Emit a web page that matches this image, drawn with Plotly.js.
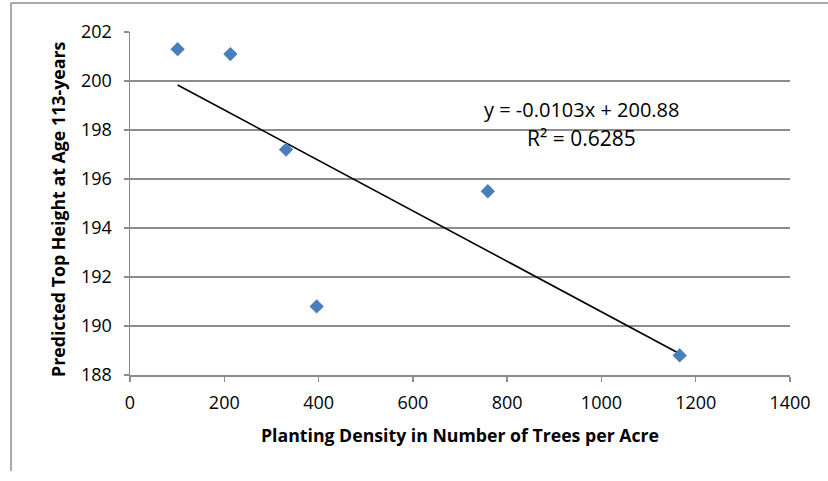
<!DOCTYPE html>
<html>
<head>
<meta charset="utf-8">
<script src="https://cdn.plot.ly/plotly-3.0.1.min.js"></script>
<style>html,body{margin:0;padding:0;background:#fff;}#chart{width:828px;height:481px;}</style>
</head>
<body>
<div id="chart"></div>
<script>
// Data
const density = [101, 213, 331, 396, 759, 1166];
const topHeight = [201.3, 201.1, 197.2, 190.8, 195.5, 188.8];
const slope = -0.0103;
const intercept = 200.88;
const equationText = "y = -0.0103x + 200.88";
const r2Text = "R² = 0.6285";
const xTicks = [0, 200, 400, 600, 800, 1000, 1200, 1400];
const yTicks = [188, 190, 192, 194, 196, 198, 200, 202];
const xTitle = "Planting Density in Number of Trees per Acre";
const yTitle = "Predicted Top Height at Age 113-years";

const xMin = Math.min(...density), xMax = Math.max(...density);
const trendX = [xMin, xMax];
const trendY = trendX.map(v => slope * v + intercept);

const gridCol = '#8c8c8c';
const fontFam = '"Open Sans", "Liberation Sans", sans-serif';
const px = v => (v - 130) / 660;
const py = v => (375 - v) / 343;

const traces = [
  {x: trendX, y: trendY, mode: 'lines', type: 'scatter',
   line: {color: '#000', width: 1.6}, hoverinfo: 'skip', showlegend: false},
  {x: density, y: topHeight, mode: 'markers', type: 'scatter',
   marker: {symbol: 'diamond', size: 11, color: '#4a7ebb'}, showlegend: false}
];

const layout = {
  width: 828, height: 481,
  margin: {l: 130, r: 38, t: 32, b: 106},
  paper_bgcolor: '#fff', plot_bgcolor: '#fff',
  font: {family: fontFam, color: '#000', size: 16},
  showlegend: false,
  xaxis: {
    range: [0, 1400], tickvals: xTicks, ticktext: xTicks.map(String),
    showgrid: false, zeroline: false,
    showline: true, linecolor: gridCol, linewidth: 1.5,
    ticks: 'outside', ticklen: 5, tickcolor: gridCol, tickwidth: 1.5,
    ticklabelstandoff: 6,
    tickfont: {size: 18, family: fontFam},
    automargin: false, fixedrange: true
  },
  yaxis: {
    range: [188, 202], tickvals: yTicks, ticktext: yTicks.map(String),
    showgrid: true, gridcolor: gridCol, gridwidth: 1.5, zeroline: false,
    showline: true, linecolor: gridCol, linewidth: 1.5,
    ticks: 'outside', ticklen: 5, tickcolor: gridCol, tickwidth: 1.5,
    ticklabelstandoff: 8,
    tickfont: {size: 18, family: fontFam},
    automargin: false, fixedrange: true
  },
  annotations: [
    {xref: 'paper', yref: 'paper', x: px(460), y: py(435), text: xTitle, showarrow: false,
     xanchor: 'center', yanchor: 'middle', font: {size: 17.7, family: fontFam, weight: 'bold', color: '#000'}},
    {xref: 'paper', yref: 'paper', x: px(58), y: py(209), text: yTitle, showarrow: false, textangle: -90,
     xanchor: 'center', yanchor: 'middle', font: {size: 17.8, family: fontFam, weight: 'bold', color: '#000'}},
    {xref: 'paper', yref: 'paper', x: px(581), y: py(109), text: equationText, showarrow: false,
     xanchor: 'center', yanchor: 'middle', font: {size: 20, family: fontFam, color: '#000'}},
    {xref: 'paper', yref: 'paper', x: px(581), y: py(138), text: r2Text, showarrow: false,
     xanchor: 'center', yanchor: 'middle', font: {size: 21, family: fontFam, color: '#000'}}
  ],
  shapes: [
    {type: 'line', xref: 'paper', yref: 'paper', x0: px(11), x1: px(828), y0: py(3), y1: py(3),
     line: {color: '#8c8c8c', width: 1.5}},
    {type: 'line', xref: 'paper', yref: 'paper', x0: px(11), x1: px(11), y0: py(3), y1: py(471),
     line: {color: '#8c8c8c', width: 1.5}}
  ]
};

Plotly.newPlot('chart', traces, layout, {displayModeBar: false, staticPlot: true});
</script>
</body>
</html>
